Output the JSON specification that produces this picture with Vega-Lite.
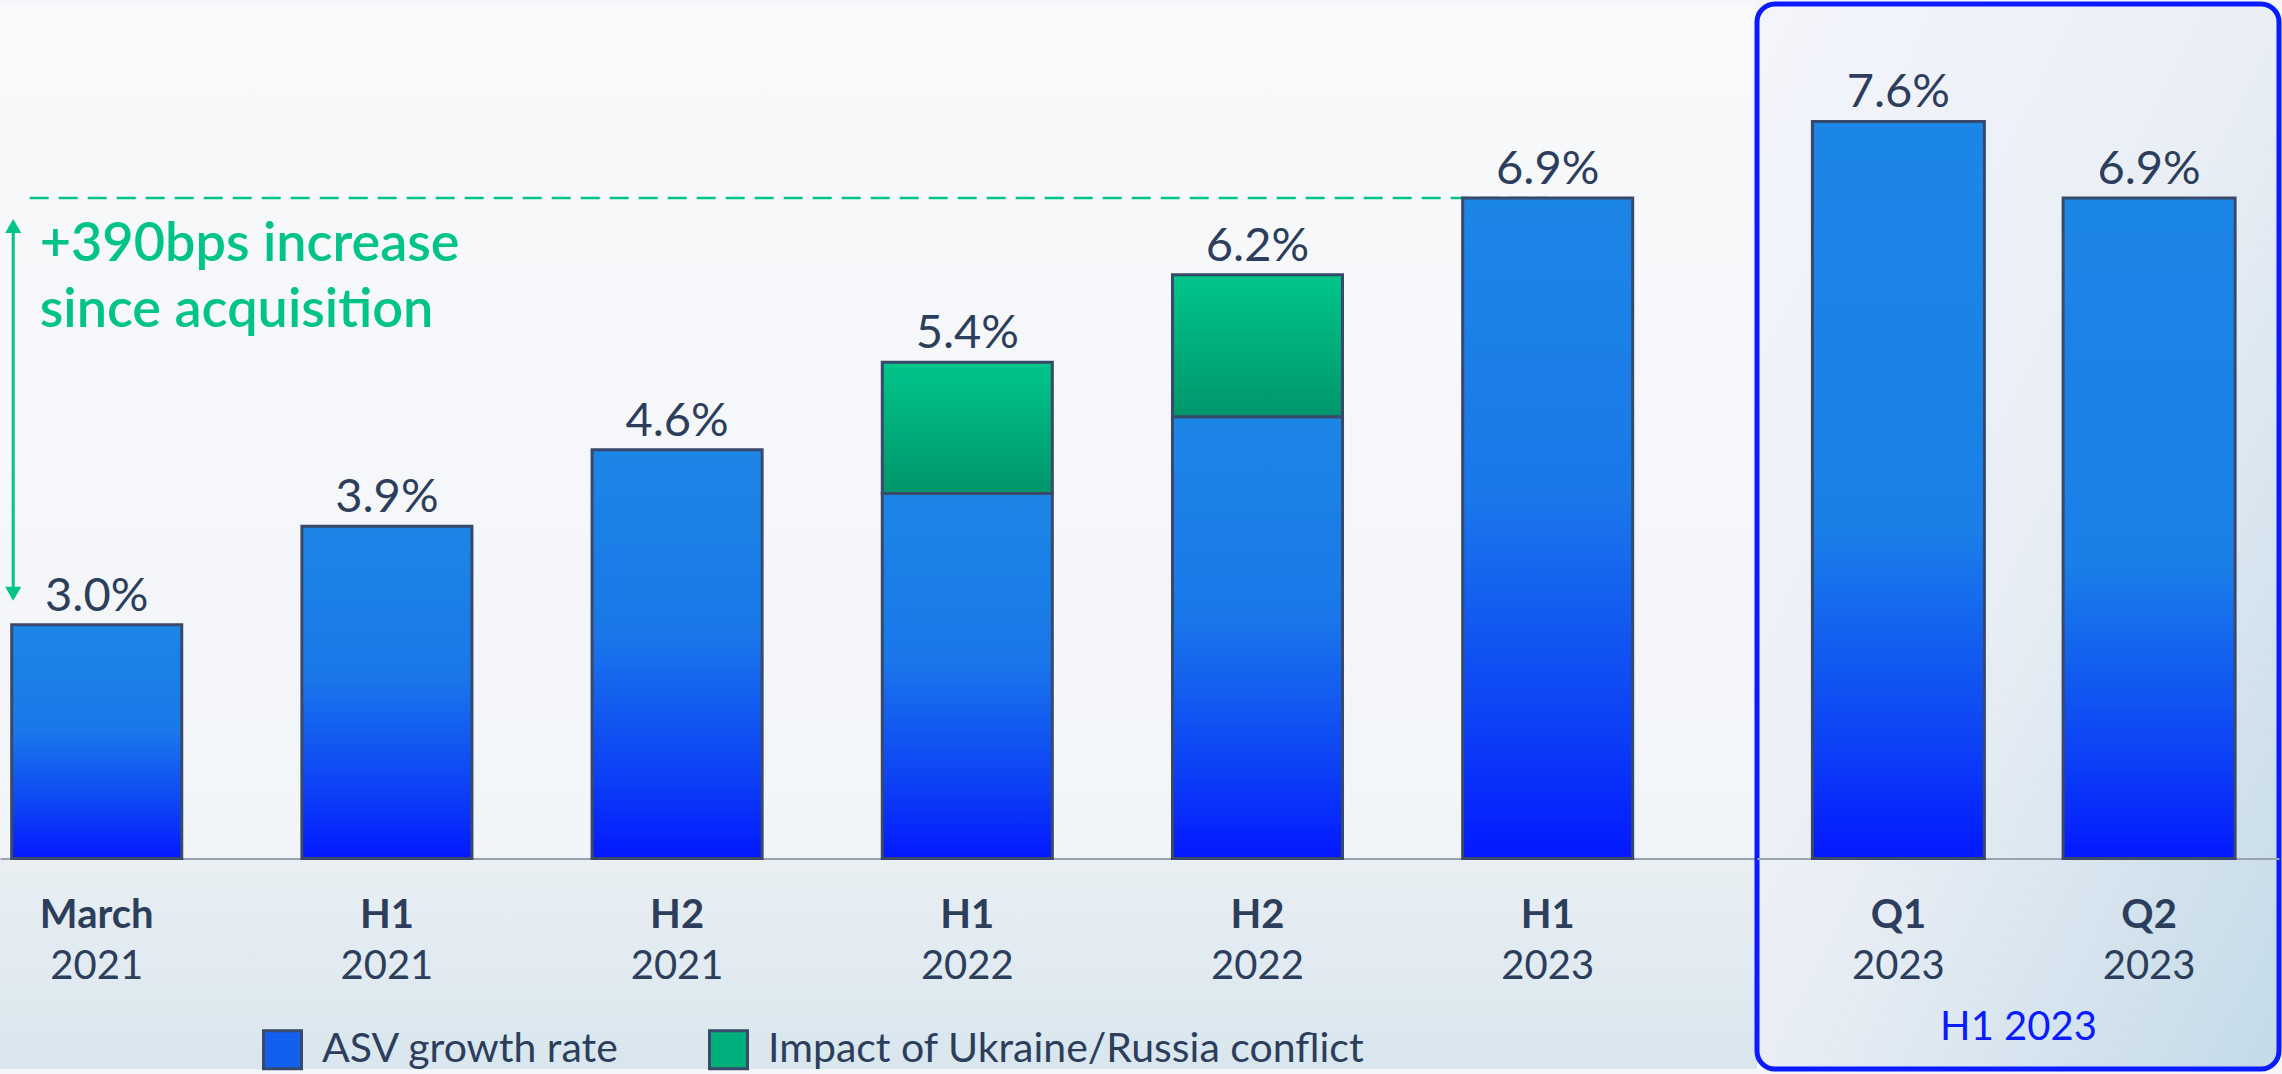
{
  "$schema": "https://vega.github.io/schema/vega-lite/v6.json",
  "background": "#f4f6f9",
  "padding": {"left": 0, "top": 1, "right": 0, "bottom": 0},
  "spacing": 0,
  "bounds": "flush",
  "datasets": {
    "asv": [
      {"key": "March 2021", "series": "ASV growth rate", "value": 3.0},
      {"key": "H1 2021", "series": "ASV growth rate", "value": 3.9},
      {"key": "H2 2021", "series": "ASV growth rate", "value": 4.6},
      {"key": "H1 2022", "series": "ASV growth rate", "value": 4.2},
      {"key": "H2 2022", "series": "ASV growth rate", "value": 4.9},
      {"key": "H1 2023", "series": "ASV growth rate", "value": 6.9}
    ],
    "impact": [
      {"key": "H1 2022", "series": "Impact of Ukraine/Russia conflict", "base": 4.2, "value": 5.4},
      {"key": "H2 2022", "series": "Impact of Ukraine/Russia conflict", "base": 4.9, "value": 6.2}
    ],
    "totals": [
      {"key": "March 2021", "value": 3.0, "label": "3.0%"},
      {"key": "H1 2021", "value": 3.9, "label": "3.9%"},
      {"key": "H2 2021", "value": 4.6, "label": "4.6%"},
      {"key": "H1 2022", "value": 5.4, "label": "5.4%"},
      {"key": "H2 2022", "value": 6.2, "label": "6.2%"},
      {"key": "H1 2023", "value": 6.9, "label": "6.9%"}
    ],
    "quarters": [
      {"key": "Q1 2023", "series": "ASV growth rate", "value": 7.6, "label": "7.6%"},
      {"key": "Q2 2023", "series": "ASV growth rate", "value": 6.9, "label": "6.9%"}
    ],
    "annot": [
      {"key": "March 2021", "to": "H1 2023", "level": 6.9, "start": 3.0, "note": ["+390bps increase", "since acquisition"]}
    ]
  },
  "hconcat": [
    {
      "width": 1757,
      "height": 1065,
      "view": {
        "stroke": null,
        "fill": {"gradient": "linear", "x1": 0, "y1": 0, "x2": 0, "y2": 1,
          "stops": [{"offset": 0, "color": "#f8f9fb"}, {"offset": 0.8, "color": "#f2f5f8"}, {"offset": 0.803, "color": "#e9eff3"}, {"offset": 1, "color": "#d9e6ee"}]}
      },
      "resolve": {"axis": {"x": "independent"}},
      "layer": [
        {
          "data": {"name": "asv"},
          "mark": {"type": "bar", "opacity": 0},
          "encoding": {
            "x": {
              "field": "key", "type": "nominal",
              "scale": {"type": "band", "domain": ["March 2021", "H1 2021", "H2 2021", "H1 2022", "H2 2022", "H1 2023"], "paddingInner": 0.414, "paddingOuter": 0.2343, "align": 0.086},
              "axis": null
            },
            "y": {"field": "value", "type": "quantitative", "scale": {"domain": [-1.061, 8.674], "nice": false, "zero": false}, "axis": null},
            "y2": {"datum": 0.863},
            "color": {
              "field": "series", "type": "nominal",
              "scale": {"domain": ["ASV growth rate", "Impact of Ukraine/Russia conflict"], "range": ["#1460ee", "#00b07c"]},
              "legend": {
                "orient": "none", "legendX": 262, "legendY": 1025, "direction": "horizontal", "title": null,
                "symbolType": "square", "symbolSize": 1444, "symbolStrokeColor": "#38496a", "symbolStrokeWidth": 3, "symbolOpacity": 1,
                "labelFont": "Lato", "labelFontSize": 41, "labelColor": "#2c3e5c", "labelOffset": 19, "labelLimit": 1000,
                "columnPadding": 83, "padding": 0
              }
            }
          }
        },
        {
          "data": {"name": "impact"},
          "mark": {"type": "bar", "opacity": 0},
          "encoding": {
            "x": {"field": "key", "type": "nominal", "axis": null},
            "y": {"field": "value", "type": "quantitative", "axis": null},
            "y2": {"field": "base"},
            "color": {"field": "series", "type": "nominal"}
          }
        },
        {
          "data": {"name": "annot"},
          "mark": {"type": "rule", "color": "#00c389", "strokeWidth": 2.5, "strokeDash": [19, 10], "xOffset": 18},
          "encoding": {
            "x": {"field": "key", "type": "nominal", "bandPosition": 0, "axis": null},
            "x2": {"field": "to"},
            "y": {"field": "level", "type": "quantitative", "axis": null}
          }
        },
        {
          "data": {"name": "annot"},
          "mark": {"type": "rule", "color": "#00c389", "strokeWidth": 3, "xOffset": 1.5, "yOffset": 24, "y2Offset": -27},
          "encoding": {
            "x": {"field": "key", "type": "nominal", "bandPosition": 0, "axis": null},
            "y": {"field": "level", "type": "quantitative", "axis": null},
            "y2": {"field": "start"}
          }
        },
        {
          "data": {"name": "annot"},
          "mark": {"type": "point", "shape": "triangle-up", "size": 260, "filled": true, "color": "#00c389", "opacity": 1, "xOffset": 1.5, "yOffset": 28},
          "encoding": {
            "x": {"field": "key", "type": "nominal", "bandPosition": 0, "axis": null},
            "y": {"field": "level", "type": "quantitative", "axis": null}
          }
        },
        {
          "data": {"name": "annot"},
          "mark": {"type": "point", "shape": "triangle-down", "size": 260, "filled": true, "color": "#00c389", "opacity": 1, "xOffset": 1.5, "yOffset": -31},
          "encoding": {
            "x": {"field": "key", "type": "nominal", "bandPosition": 0, "axis": null},
            "y": {"field": "start", "type": "quantitative", "axis": null}
          }
        },
        {
          "data": {"name": "annot"},
          "mark": {"type": "text", "align": "left", "baseline": "alphabetic", "font": "Lato", "fontSize": 54, "fontWeight": 600, "color": "#00c389", "lineHeight": 66, "xOffset": 28, "dy": 63},
          "encoding": {
            "x": {"field": "key", "type": "nominal", "bandPosition": 0, "axis": null},
            "y": {"field": "level", "type": "quantitative", "axis": null},
            "text": {"field": "note"}
          }
        },
        {
          "data": {"name": "asv"},
          "mark": {"type": "bar", "stroke": "#38496a", "strokeWidth": 3,
            "color": {"gradient": "linear", "x1": 0, "y1": 0, "x2": 0, "y2": 1, "stops": [{"offset": 0, "color": "#1c86e6"}, {"offset": 0.45, "color": "#1a78ea"}, {"offset": 0.8, "color": "#0c40f6"}, {"offset": 1, "color": "#0418ff"}]}},
          "encoding": {
            "x": {
              "field": "key", "type": "nominal",
              "axis": {"orient": "bottom", "title": null, "labelExpr": "split(datum.value, ' ')[0]", "labelFontWeight": "bold", "labelPadding": 68.5, "domain": true, "domainColor": "#9aa4b0", "domainWidth": 2, "offset": -210.5}
            },
            "y": {"field": "value", "type": "quantitative", "axis": null},
            "y2": {"datum": 0.863}
          }
        },
        {
          "data": {"name": "impact"},
          "mark": {"type": "bar", "stroke": "#38496a", "strokeWidth": 3,
            "color": {"gradient": "linear", "x1": 0, "y1": 0, "x2": 0, "y2": 1, "stops": [{"offset": 0, "color": "#00c58b"}, {"offset": 1, "color": "#00966b"}]}},
          "encoding": {
            "x": {"field": "key", "type": "nominal", "axis": null},
            "y": {"field": "value", "type": "quantitative", "axis": null},
            "y2": {"field": "base"}
          }
        },
        {
          "data": {"name": "totals"},
          "mark": {"type": "text", "baseline": "alphabetic", "font": "Lato", "fontSize": 47, "color": "#2c3e5c", "dy": -14},
          "encoding": {
            "x": {
              "field": "key", "type": "nominal",
              "axis": {"orient": "bottom", "title": null, "labelExpr": "split(datum.value, ' ')[1]", "labelFontWeight": "normal", "labelPadding": 119.5, "domain": false, "offset": -210.5}
            },
            "y": {"field": "value", "type": "quantitative", "axis": null},
            "text": {"field": "label"}
          }
        }
      ]
    },
    {
      "width": 522,
      "height": 1065,
      "view": {
        "stroke": "#0b1bff", "strokeWidth": 5, "cornerRadius": 18,
        "fill": {"gradient": "linear", "x1": 0, "y1": 0, "x2": 1, "y2": 1,
          "stops": [{"offset": 0, "color": "#f3f5fb"}, {"offset": 0.5, "color": "#e9eef5"}, {"offset": 1, "color": "#c3dae8"}]}
      },
      "resolve": {"axis": {"x": "independent"}},
      "layer": [
        {
          "data": {"name": "quarters"},
          "mark": {"type": "bar", "stroke": "#38496a", "strokeWidth": 3,
            "color": {"gradient": "linear", "x1": 0, "y1": 0, "x2": 0, "y2": 1, "stops": [{"offset": 0, "color": "#1c86e6"}, {"offset": 0.55, "color": "#1a80e8"}, {"offset": 0.85, "color": "#0c40f6"}, {"offset": 1, "color": "#0418ff"}]}},
          "encoding": {
            "x": {
              "field": "key", "type": "nominal",
              "scale": {"type": "band", "domain": ["Q1 2023", "Q2 2023"], "paddingInner": 0.314, "paddingOuter": 0.198, "align": 0.558},
              "axis": {"orient": "bottom", "title": null, "labelExpr": "split(datum.value, ' ')[0]", "labelFontWeight": "bold", "labelPadding": 68.5, "domain": true, "domainColor": "#9aa4b0", "domainWidth": 2, "offset": -210.5}
            },
            "y": {"field": "value", "type": "quantitative", "scale": {"domain": [-1.061, 8.674], "nice": false, "zero": false}, "axis": null},
            "y2": {"datum": 0.863}
          }
        },
        {
          "data": {"name": "quarters"},
          "mark": {"type": "text", "baseline": "alphabetic", "font": "Lato", "fontSize": 47, "color": "#2c3e5c", "dy": -14},
          "encoding": {
            "x": {
              "field": "key", "type": "nominal",
              "axis": {"orient": "bottom", "title": "H1 2023", "titleColor": "#0b1bff", "titleFont": "Lato", "titleFontSize": 40, "titleFontWeight": "normal", "titleBaseline": "alphabetic", "titleY": 180.5, "labelExpr": "split(datum.value, ' ')[1]", "labelFontWeight": "normal", "labelPadding": 119.5, "domain": false, "offset": -210.5}
            },
            "y": {"field": "value", "type": "quantitative", "axis": null},
            "text": {"field": "label"}
          }
        }
      ]
    }
  ],
  "config": {
    "font": "Lato",
    "view": {"stroke": null},
    "axis": {"labelFont": "Lato", "labelFontSize": 40, "labelColor": "#2c3e5c", "ticks": false, "tickSize": 0, "grid": false, "labelAngle": 0, "labelBaseline": "alphabetic", "labelLimit": 400}
  }
}
